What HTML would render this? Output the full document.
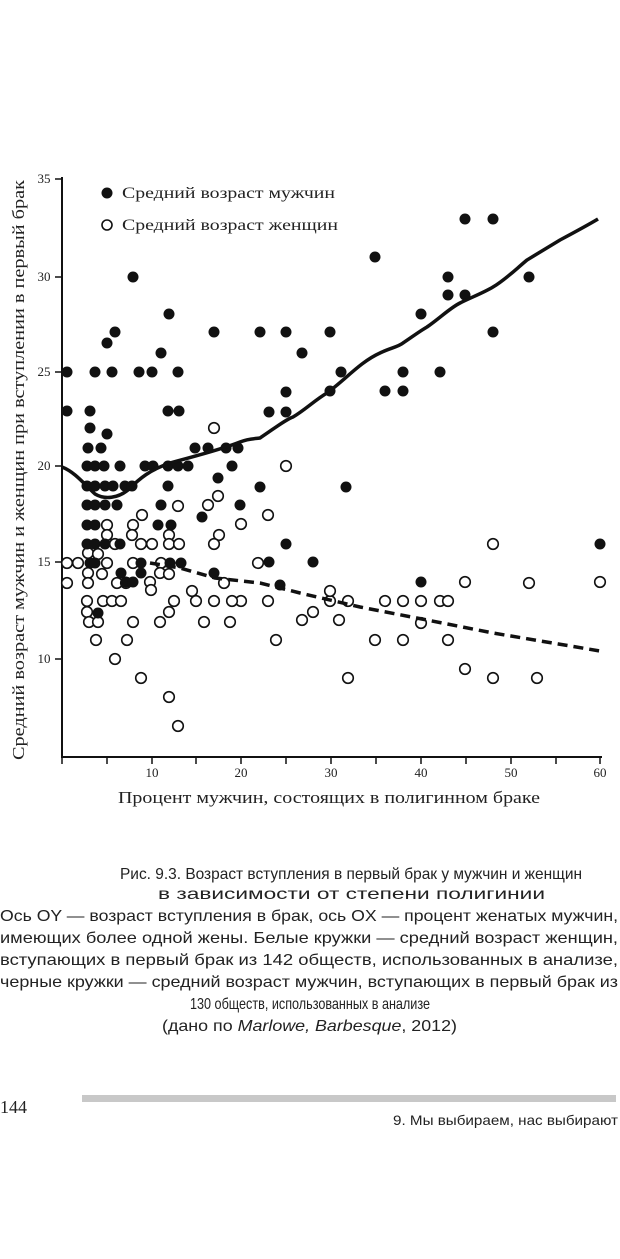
<!DOCTYPE html>
<html><head><meta charset="utf-8"><style>
html,body{margin:0;padding:0;background:#fff;}
svg{display:block;}
</style></head><body>
<svg width="620" height="1259" viewBox="0 0 620 1259" xmlns="http://www.w3.org/2000/svg">
<rect width="620" height="1259" fill="#fff"/>
<g stroke="#111" stroke-width="2" fill="none">
<line x1="62" y1="177" x2="62" y2="758"/>
<line x1="61" y1="757" x2="602" y2="757"/>
</g>
<g stroke="#111" stroke-width="1.5">
<line x1="55" y1="179" x2="62" y2="179"/><line x1="55" y1="277" x2="62" y2="277"/><line x1="55" y1="372" x2="62" y2="372"/><line x1="55" y1="466" x2="62" y2="466"/><line x1="55" y1="562" x2="62" y2="562"/><line x1="55" y1="659" x2="62" y2="659"/>
<line x1="62" y1="757" x2="62" y2="764"/><line x1="107" y1="757" x2="107" y2="764"/><line x1="152" y1="757" x2="152" y2="764"/><line x1="196" y1="757" x2="196" y2="764"/><line x1="241" y1="757" x2="241" y2="764"/><line x1="286" y1="757" x2="286" y2="764"/><line x1="331" y1="757" x2="331" y2="764"/><line x1="376" y1="757" x2="376" y2="764"/><line x1="421" y1="757" x2="421" y2="764"/><line x1="466" y1="757" x2="466" y2="764"/><line x1="511" y1="757" x2="511" y2="764"/><line x1="556" y1="757" x2="556" y2="764"/><line x1="600" y1="757" x2="600" y2="764"/>
</g>
<g font-family="Liberation Serif, serif" font-size="13" fill="#222">
<text x="44" y="183" text-anchor="middle">35</text><text x="44" y="281" text-anchor="middle">30</text><text x="44" y="376" text-anchor="middle">25</text><text x="44" y="470" text-anchor="middle">20</text><text x="44" y="566" text-anchor="middle">15</text><text x="44" y="663" text-anchor="middle">10</text>
<text x="152" y="777" text-anchor="middle">10</text><text x="241" y="777" text-anchor="middle">20</text><text x="331" y="777" text-anchor="middle">30</text><text x="421" y="777" text-anchor="middle">40</text><text x="511" y="777" text-anchor="middle">50</text><text x="600" y="777" text-anchor="middle">60</text>
</g>
<text x="118" y="803" font-family="Liberation Serif, serif" font-size="17" fill="#222" textLength="422" lengthAdjust="spacingAndGlyphs">Процент мужчин, состоящих в полигинном браке</text>
<text transform="translate(24,760) rotate(-90)" font-family="Liberation Serif, serif" font-size="17" fill="#222" textLength="580" lengthAdjust="spacingAndGlyphs">Средний возраст мужчин и женщин при вступлении в первый брак</text>
<circle cx="107" cy="193" r="5.5" fill="#111"/>
<circle cx="107" cy="225" r="5" fill="#fff" stroke="#111" stroke-width="1.6"/>
<text x="122" y="198" font-family="Liberation Serif, serif" font-size="16" fill="#222" textLength="213" lengthAdjust="spacingAndGlyphs">Средний возраст мужчин</text>
<text x="122" y="230" font-family="Liberation Serif, serif" font-size="16" fill="#222" textLength="216" lengthAdjust="spacingAndGlyphs">Средний возраст женщин</text>
<g fill="#fff" stroke="#111" stroke-width="1.6">
<circle cx="67" cy="563" r="5.3"/><circle cx="78" cy="563" r="5.3"/><circle cx="67" cy="583" r="5.3"/><circle cx="88" cy="553" r="5.3"/><circle cx="98" cy="554" r="5.3"/><circle cx="107" cy="563" r="5.3"/><circle cx="88" cy="573" r="5.3"/><circle cx="102" cy="574" r="5.3"/><circle cx="88" cy="583" r="5.3"/><circle cx="107" cy="525" r="5.3"/><circle cx="107" cy="535" r="5.3"/><circle cx="115" cy="544" r="5.3"/><circle cx="133" cy="525" r="5.3"/><circle cx="132" cy="535" r="5.3"/><circle cx="142" cy="515" r="5.3"/><circle cx="141" cy="544" r="5.3"/><circle cx="152" cy="544" r="5.3"/><circle cx="133" cy="563" r="5.3"/><circle cx="161" cy="563" r="5.3"/><circle cx="169" cy="535" r="5.3"/><circle cx="169" cy="544" r="5.3"/><circle cx="179" cy="544" r="5.3"/><circle cx="178" cy="506" r="5.3"/><circle cx="160" cy="573" r="5.3"/><circle cx="169" cy="574" r="5.3"/><circle cx="117" cy="583" r="5.3"/><circle cx="126" cy="583" r="5.3"/><circle cx="150" cy="582" r="5.3"/><circle cx="151" cy="590" r="5.3"/><circle cx="87" cy="601" r="5.3"/><circle cx="103" cy="601" r="5.3"/><circle cx="112" cy="601" r="5.3"/><circle cx="121" cy="601" r="5.3"/><circle cx="174" cy="601" r="5.3"/><circle cx="192" cy="591" r="5.3"/><circle cx="196" cy="601" r="5.3"/><circle cx="214" cy="601" r="5.3"/><circle cx="241" cy="601" r="5.3"/><circle cx="87" cy="612" r="5.3"/><circle cx="169" cy="612" r="5.3"/><circle cx="89" cy="622" r="5.3"/><circle cx="98" cy="622" r="5.3"/><circle cx="133" cy="622" r="5.3"/><circle cx="160" cy="622" r="5.3"/><circle cx="204" cy="622" r="5.3"/><circle cx="230" cy="622" r="5.3"/><circle cx="96" cy="640" r="5.3"/><circle cx="127" cy="640" r="5.3"/><circle cx="115" cy="659" r="5.3"/><circle cx="141" cy="678" r="5.3"/><circle cx="169" cy="697" r="5.3"/><circle cx="178" cy="726" r="5.3"/><circle cx="208" cy="505" r="5.3"/><circle cx="218" cy="496" r="5.3"/><circle cx="219" cy="535" r="5.3"/><circle cx="214" cy="544" r="5.3"/><circle cx="241" cy="524" r="5.3"/><circle cx="224" cy="583" r="5.3"/>
<circle cx="214" cy="428" r="5.3"/><circle cx="286" cy="466" r="5.3"/><circle cx="268" cy="515" r="5.3"/><circle cx="493" cy="544" r="5.3"/><circle cx="465" cy="582" r="5.3"/><circle cx="529" cy="583" r="5.3"/><circle cx="600" cy="582" r="5.3"/><circle cx="268" cy="601" r="5.3"/><circle cx="330" cy="601" r="5.3"/><circle cx="348" cy="601" r="5.3"/><circle cx="385" cy="601" r="5.3"/><circle cx="403" cy="601" r="5.3"/><circle cx="421" cy="601" r="5.3"/><circle cx="440" cy="601" r="5.3"/><circle cx="448" cy="601" r="5.3"/><circle cx="330" cy="591" r="5.3"/><circle cx="302" cy="620" r="5.3"/><circle cx="313" cy="612" r="5.3"/><circle cx="339" cy="620" r="5.3"/><circle cx="421" cy="623" r="5.3"/><circle cx="276" cy="640" r="5.3"/><circle cx="375" cy="640" r="5.3"/><circle cx="403" cy="640" r="5.3"/><circle cx="448" cy="640" r="5.3"/><circle cx="465" cy="669" r="5.3"/><circle cx="493" cy="678" r="5.3"/><circle cx="537" cy="678" r="5.3"/><circle cx="348" cy="678" r="5.3"/><circle cx="258" cy="563" r="5.3"/><circle cx="232" cy="601" r="5.3"/>
</g>
<g fill="#111">
<circle cx="67" cy="372" r="5.5"/><circle cx="67" cy="411" r="5.5"/><circle cx="95" cy="372" r="5.5"/><circle cx="112" cy="372" r="5.5"/><circle cx="139" cy="372" r="5.5"/><circle cx="152" cy="372" r="5.5"/><circle cx="178" cy="372" r="5.5"/><circle cx="90" cy="411" r="5.5"/><circle cx="168" cy="411" r="5.5"/><circle cx="179" cy="411" r="5.5"/><circle cx="90" cy="428" r="5.5"/><circle cx="107" cy="434" r="5.5"/><circle cx="88" cy="448" r="5.5"/><circle cx="101" cy="448" r="5.5"/><circle cx="195" cy="448" r="5.5"/><circle cx="208" cy="448" r="5.5"/><circle cx="226" cy="448" r="5.5"/><circle cx="238" cy="448" r="5.5"/><circle cx="133" cy="277" r="5.5"/><circle cx="169" cy="314" r="5.5"/><circle cx="115" cy="332" r="5.5"/><circle cx="107" cy="343" r="5.5"/><circle cx="161" cy="353" r="5.5"/><circle cx="214" cy="332" r="5.5"/>
<circle cx="87" cy="466" r="5.5"/><circle cx="95" cy="466" r="5.5"/><circle cx="104" cy="466" r="5.5"/><circle cx="120" cy="466" r="5.5"/><circle cx="145" cy="466" r="5.5"/><circle cx="153" cy="466" r="5.5"/><circle cx="168" cy="466" r="5.5"/><circle cx="178" cy="466" r="5.5"/><circle cx="188" cy="466" r="5.5"/><circle cx="232" cy="466" r="5.5"/>
<circle cx="87" cy="486" r="5.5"/><circle cx="95" cy="486" r="5.5"/><circle cx="105" cy="486" r="5.5"/><circle cx="113" cy="486" r="5.5"/><circle cx="125" cy="486" r="5.5"/><circle cx="132" cy="486" r="5.5"/><circle cx="168" cy="486" r="5.5"/><circle cx="218" cy="478" r="5.5"/>
<circle cx="87" cy="505" r="5.5"/><circle cx="95" cy="505" r="5.5"/><circle cx="105" cy="505" r="5.5"/><circle cx="117" cy="505" r="5.5"/><circle cx="161" cy="505" r="5.5"/><circle cx="240" cy="505" r="5.5"/><circle cx="202" cy="517" r="5.5"/>
<circle cx="87" cy="525" r="5.5"/><circle cx="95" cy="525" r="5.5"/><circle cx="158" cy="525" r="5.5"/><circle cx="171" cy="525" r="5.5"/>
<circle cx="87" cy="544" r="5.5"/><circle cx="95" cy="544" r="5.5"/><circle cx="105" cy="544" r="5.5"/><circle cx="120" cy="544" r="5.5"/>
<circle cx="90" cy="563" r="5.5"/><circle cx="95" cy="563" r="5.5"/><circle cx="141" cy="563" r="5.5"/><circle cx="170" cy="563" r="5.5"/><circle cx="181" cy="563" r="5.5"/>
<circle cx="121" cy="573" r="5.5"/><circle cx="141" cy="573" r="5.5"/><circle cx="214" cy="573" r="5.5"/><circle cx="126" cy="582" r="5.5"/><circle cx="133" cy="582" r="5.5"/><circle cx="98" cy="613" r="5.5"/>
<circle cx="465" cy="219" r="5.5"/><circle cx="493" cy="219" r="5.5"/><circle cx="375" cy="257" r="5.5"/><circle cx="448" cy="277" r="5.5"/><circle cx="448" cy="295" r="5.5"/><circle cx="465" cy="295" r="5.5"/><circle cx="529" cy="277" r="5.5"/><circle cx="421" cy="314" r="5.5"/><circle cx="493" cy="332" r="5.5"/><circle cx="260" cy="332" r="5.5"/><circle cx="286" cy="332" r="5.5"/><circle cx="330" cy="332" r="5.5"/><circle cx="302" cy="353" r="5.5"/><circle cx="341" cy="372" r="5.5"/><circle cx="403" cy="372" r="5.5"/><circle cx="440" cy="372" r="5.5"/><circle cx="330" cy="391" r="5.5"/><circle cx="385" cy="391" r="5.5"/><circle cx="403" cy="391" r="5.5"/><circle cx="286" cy="392" r="5.5"/><circle cx="269" cy="412" r="5.5"/><circle cx="286" cy="412" r="5.5"/><circle cx="346" cy="487" r="5.5"/><circle cx="260" cy="487" r="5.5"/><circle cx="286" cy="544" r="5.5"/><circle cx="600" cy="544" r="5.5"/><circle cx="269" cy="562" r="5.5"/><circle cx="313" cy="562" r="5.5"/><circle cx="421" cy="582" r="5.5"/><circle cx="280" cy="585" r="5.5"/>
</g>
<path d="M62,467 C75,472 85,485 95,494 C105,500 118,498 128,490 C140,478 150,470 170,463 C195,456 220,450 240,442 C250,438 255,439 260,438 C275,428 285,420 293,417 C305,410 315,400 327,393 C345,380 360,362 380,353 C390,348 398,347 403,343 C412,337 420,331 427,327 C440,318 450,308 460,303 C472,297 483,293 493,287 C505,280 515,270 527,260 C540,252 550,246 560,240 C575,232 588,225 598,219" fill="none" stroke="#111" stroke-width="3.5"/>
<path d="M150,563 L180,568 L215,578 L260,583 L300,593 L360,607 L427,620 L493,633 L600,651" fill="none" stroke="#111" stroke-width="3.5" stroke-dasharray="10,6"/>
<g font-family="Liberation Sans, sans-serif" font-size="16" fill="#222">
<text x="120" y="879" textLength="462" lengthAdjust="spacingAndGlyphs">Рис. 9.3. Возраст вступления в первый брак у мужчин и женщин</text>
<text x="158" y="899" textLength="387" lengthAdjust="spacingAndGlyphs">в зависимости от степени полигинии</text>
<text x="0" y="921" textLength="618" lengthAdjust="spacingAndGlyphs">Ось OY — возраст вступления в брак, ось OX — процент женатых мужчин,</text>
<text x="0" y="943" textLength="618" lengthAdjust="spacingAndGlyphs">имеющих более одной жены. Белые кружки — средний возраст женщин,</text>
<text x="0" y="965" textLength="618" lengthAdjust="spacingAndGlyphs">вступающих в первый брак из 142 обществ, использованных в анализе,</text>
<text x="0" y="987" textLength="618" lengthAdjust="spacingAndGlyphs">черные кружки — средний возраст мужчин, вступающих в первый брак из</text>
<text x="190" y="1009" textLength="240" lengthAdjust="spacingAndGlyphs">130 обществ, использованных в анализе</text>
<text x="162" y="1031" textLength="295" lengthAdjust="spacingAndGlyphs">(дано по <tspan font-style="italic">Marlowe, Barbesque</tspan>, 2012)</text>
</g>
<rect x="82" y="1095" width="534" height="7" fill="#c8c8c8"/>
<text x="0" y="1113" font-family="Liberation Serif, serif" font-size="18" fill="#222">144</text>
<text x="393" y="1125" font-family="Liberation Sans, sans-serif" font-size="14" fill="#222" textLength="225" lengthAdjust="spacingAndGlyphs">9. Мы выбираем, нас выбирают</text>
</svg>
</body></html>
